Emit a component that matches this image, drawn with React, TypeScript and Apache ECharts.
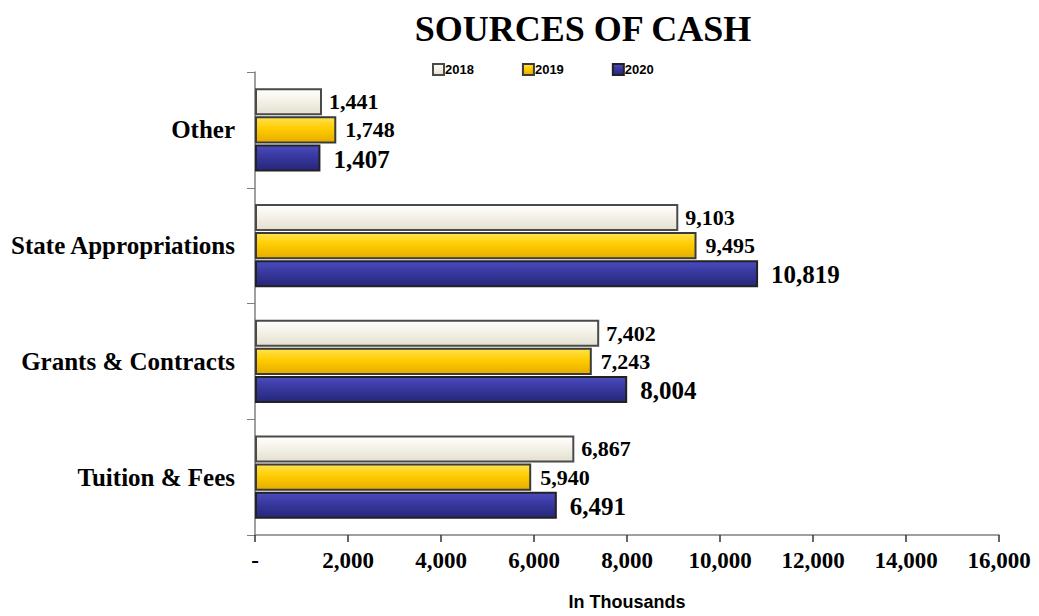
import React, { useEffect, useRef } from "react";
import * as echarts from "echarts";

const categories = ["Other", "State Appropriations", "Grants & Contracts", "Tuition & Fees"];
const seriesNames = ["2018", "2019", "2020"];
const values2018 = [1441, 9103, 7402, 6867];
const values2019 = [1748, 9495, 7243, 5940];
const values2020 = [1407, 10819, 8004, 6491];

const fmt = (v: number) => (v === 0 ? "-" : v.toLocaleString("en-US"));

export default function App() {
  const ref = useRef<HTMLDivElement>(null);
  useEffect(() => {
    if (!ref.current) return;
    const chart = echarts.init(ref.current, undefined, { renderer: "svg" });
    const grad = (top: string, mid: string, bot: string) =>
      new echarts.graphic.LinearGradient(0, 0, 0, 1, [
        { offset: 0, color: top },
        { offset: 0.45, color: mid },
        { offset: 1, color: bot },
      ]);
    const styles = [
      { color: grad("#ffffff", "#f4f2e8", "#e4e0cf"), border: "#4a4a4a", size: 22, dist: 7, dy: 0 },
      { color: grad("#ffe34d", "#ffcc00", "#e6ac00"), border: "#3a3a3a", size: 22, dist: 9, dy: 0 },
      { color: grad("#4b4bbf", "#38389e", "#26267a"), border: "#222", size: 25, dist: 13, dy: 1 },
    ];
    const datas = [values2018, values2019, values2020];
    chart.setOption({
      animation: false,
      backgroundColor: "#ffffff",
      title: {
        text: "SOURCES OF CASH",
        left: 578,
        top: 6,
        textAlign: "center",
        textStyle: {
          fontFamily: "Liberation Serif",
          fontWeight: "bold",
          fontSize: 36,
          color: "#000",
        },
      },
      legend: {
        data: seriesNames,
        top: 58,
        left: 427,
        itemGap: 48,
        itemWidth: 11,
        itemHeight: 11,
        icon: "rect",
        textStyle: {
          fontFamily: "Liberation Sans",
          fontWeight: "bold",
          fontSize: 13,
          color: "#000",
          padding: [0, 0, 0, -4],
        },
      },
      grid: { left: 255, right: 40, top: 72, bottom: 81, containLabel: false },
      xAxis: {
        type: "value",
        min: 0,
        max: 16000,
        interval: 2000,
        name: "In Thousands",
        nameLocation: "middle",
        nameGap: 58,
        nameTextStyle: {
          fontFamily: "Liberation Sans",
          fontWeight: "bold",
          fontSize: 18,
          color: "#000",
        },
        splitLine: { show: false },
        axisLine: { show: true, lineStyle: { color: "#808080", width: 1.5 } },
        axisTick: { show: true, length: 7, lineStyle: { color: "#333", width: 1.5 } },
        axisLabel: {
          formatter: (v: number) => fmt(v),
          fontFamily: "Liberation Serif",
          fontWeight: "bold",
          fontSize: 23,
          color: "#000",
          margin: 14,
        },
      },
      yAxis: {
        type: "category",
        data: categories,
        inverse: true,
        axisLine: { show: true, lineStyle: { color: "#808080", width: 1.5 } },
        axisTick: { show: true, length: 8, lineStyle: { color: "#808080" } },
        axisLabel: {
          fontFamily: "Liberation Serif",
          fontWeight: "bold",
          fontSize: 25,
          color: "#000",
          margin: 20,
        },
      },
      series: seriesNames.map((name, i) => ({
        name,
        type: "bar",
        data: datas[i],
        barGap: "4%",
        barCategoryGap: "28%",
        itemStyle: {
          color: styles[i].color,
          borderColor: styles[i].border,
          borderWidth: 2,
        },
        label: {
          show: true,
          position: "right",
          distance: styles[i].dist,
          offset: [0, styles[i].dy],
          formatter: (p: any) => fmt(p.value),
          fontFamily: "Liberation Serif",
          fontWeight: "bold",
          fontSize: styles[i].size,
          color: "#000",
        },
      })),
    });
    return () => chart.dispose();
  }, []);
  return <div ref={ref} style={{ width: 1039, height: 616, margin: -8 }} />;
}
